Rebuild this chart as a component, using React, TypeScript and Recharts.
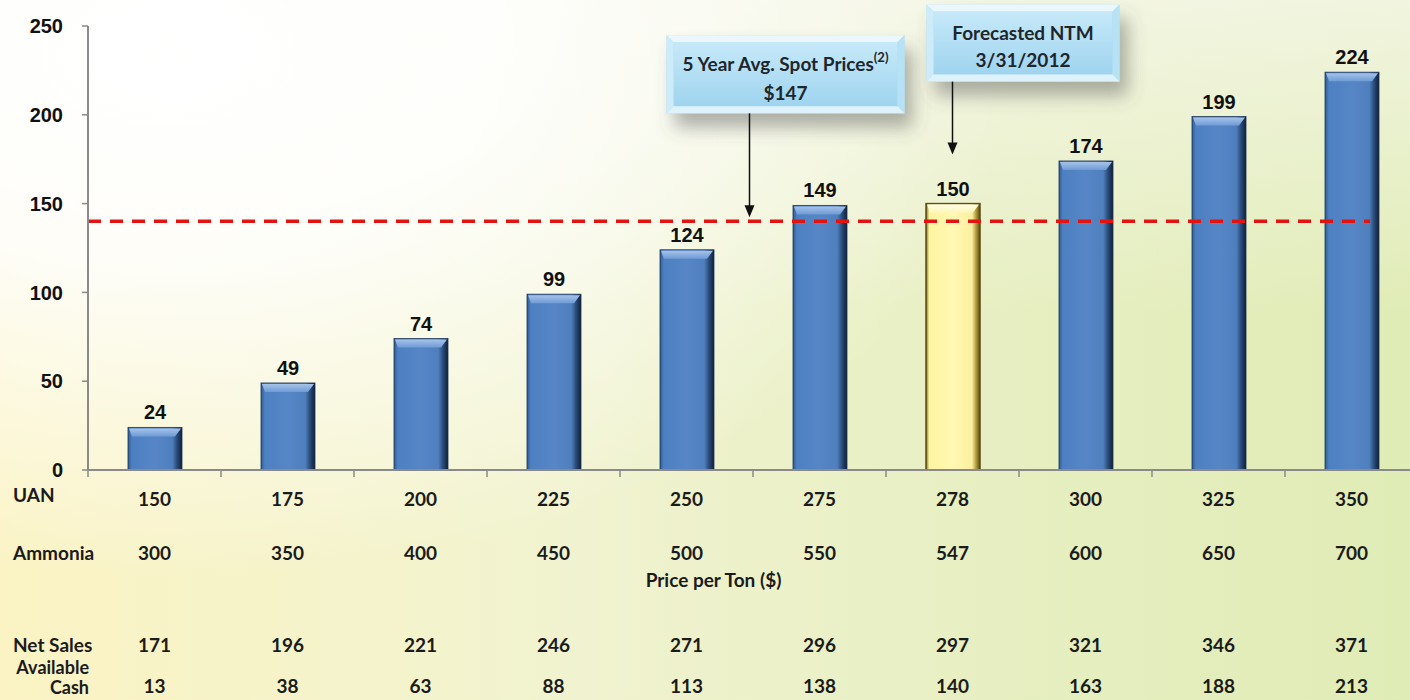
import { BarChart, Bar, XAxis, YAxis, LabelList, ReferenceLine, ReferenceDot } from 'recharts';

// price grid ($/ton) and resulting cash flow per scenario
const uanPrices = ['150', '175', '200', '225', '250', '275', '278', '300', '325', '350'];
const ammoniaPrices = ['300', '350', '400', '450', '500', '550', '547', '600', '650', '700'];
const netSales = ['171', '196', '221', '246', '271', '296', '297', '321', '346', '371'];
const availableCash = ['13', '38', '63', '88', '113', '138', '140', '163', '188', '213'];
const cashFlow = [24, 49, 74, 99, 124, 149, 150, 174, 199, 224];
const yTicks = [0, 50, 100, 150, 200, 250];

const FORECAST_UAN = '278';
const AVG_SPOT_LEVEL = 140;
const AVG_SPOT_UAN = '275';

const data = uanPrices.map((uan, i) => ({
  uan,
  ammonia: ammoniaPrices[i],
  netSales: netSales[i],
  cash: availableCash[i],
  value: cashFlow[i],
}));

// bottom axes stack in id order, so ids are prefixed by row number
const UAN_AXIS = 'r1_uan';

const AXIS = '#8a8a8a';
const ROW_TEXT = { fontFamily: 'Lato, sans-serif', fontSize: 19, fontWeight: 700, fill: '#1b1b1b' };
const NUM_TEXT = { fontFamily: '"Liberation Sans", Arial, sans-serif', fontSize: 20, fontWeight: 700, fill: '#111' };

// one row of the price table, laid out by its own x axis
function RowTick(props: any) {
  const { x, y, payload, index, width, visibleTicksCount, label, boundary, lift, caption } = props;
  const half = payload?.offset ?? width / visibleTicksCount / 2;
  const left = x - half;
  return (
    <g>
      {boundary && (
        <line x1={left} x2={left} y1={y - lift} y2={y - lift + 7} stroke={AXIS} strokeWidth={1.5} />
      )}
      <text x={x} y={y} dy="0.71em" textAnchor="middle" style={ROW_TEXT}>
        {payload.value}
      </text>
      {index === 0 && label && label.length === 1 && (
        <text x={left - 75} y={y + (boundary ? -4 : 0)} dy="0.71em" textAnchor="start" style={ROW_TEXT}>
          {label[0]}
        </text>
      )}
      {index === 0 && label && label.length === 2 && (
        <g>
          <text x={left + 1} y={y - 19} dy="0.71em" textAnchor="end" style={{ ...ROW_TEXT, fontSize: 18 }}>
            {label[0]}
          </text>
          <text x={left + 1} y={y + 1} dy="0.71em" textAnchor="end" style={{ ...ROW_TEXT, fontSize: 18 }}>
            {label[1]}
          </text>
        </g>
      )}
      {caption && index === 4 && (
        <text x={x + 27} y={y + 27} dy="0.71em" textAnchor="middle" style={ROW_TEXT}>
          Price per Ton ($)
        </text>
      )}
    </g>
  );
}

function BevelBar(props: any) {
  const { x, y, width: w, height: h } = props;
  if (!h || h <= 0) return null;
  const forecast = (props.payload?.uan ?? props.uan) === FORECAST_UAN;
  const id = forecast ? 'gold' : 'blue';
  const b = Math.min(9, h / 2);
  return (
    <g>
      <rect
        x={x}
        y={y}
        width={w}
        height={h}
        fill={`url(#${id}Body)`}
        stroke={forecast ? '#5b4c12' : '#1d3557'}
        strokeWidth={forecast ? 1.5 : 0.8}
      />
      <polygon
        points={`${x + 1},${y + 1} ${x + w - 1},${y + 1} ${x + w - 7},${y + b} ${x + 4},${y + b}`}
        fill={`url(#${id}Top)`}
      />
    </g>
  );
}

// bevelled call-out box with an arrow down to the point it describes
function Callout(props: any) {
  const { cx, cy, arrowDx, tipGap, stem, boxDx, boxW, boxH, children } = props;
  if (cx == null || cy == null) return null;
  const ax = cx + arrowDx;
  const tip = cy - tipGap;
  const bottom = tip - stem;
  const bx = ax + boxDx;
  const by = bottom - boxH;
  const b = 7;
  return (
    <g>
      <rect x={bx} y={by} width={boxW} height={boxH} fill="#a9d9f1" filter="url(#calloutShadow)" />
      <rect x={bx + b} y={by + b} width={boxW - 2 * b} height={boxH - 2 * b} fill="url(#calloutFace)" />
      <polygon points={`${bx},${by} ${bx + boxW},${by} ${bx + boxW - b},${by + b} ${bx + b},${by + b}`} fill="#eaf8fe" />
      <polygon points={`${bx},${by} ${bx + b},${by + b} ${bx + b},${by + boxH - b} ${bx},${by + boxH}`} fill="#cdebf9" />
      <polygon
        points={`${bx + boxW},${by} ${bx + boxW},${by + boxH} ${bx + boxW - b},${by + boxH - b} ${bx + boxW - b},${by + b}`}
        fill="#b7e1f5"
      />
      <polygon
        points={`${bx},${by + boxH} ${bx + b},${by + boxH - b} ${bx + boxW - b},${by + boxH - b} ${bx + boxW},${by + boxH}`}
        fill="#ddf2fb"
      />
      <g transform={`translate(${bx + boxW / 2}, ${by})`}>{children}</g>
      <line x1={ax} x2={ax} y1={bottom} y2={tip - 10} stroke="#111" strokeWidth={1.5} />
      <polygon points={`${ax - 5},${tip - 12} ${ax + 5},${tip - 12} ${ax},${tip}`} fill="#111" />
    </g>
  );
}

const CALLOUT_TEXT = { fontFamily: 'Lato, sans-serif', fontSize: 19, fontWeight: 700, fill: '#1e262b' };

export default function App() {
  return (
    <div
      style={{
        position: 'absolute',
        left: 0,
        top: 0,
        width: 1410,
        height: 700,
        overflow: 'hidden',
        background:
          'radial-gradient(ellipse 60% 75% at 12% 8%, #ffffff 0%, rgba(255,255,255,0.85) 40%, rgba(255,255,255,0) 100%),' +
          'linear-gradient(to bottom, rgba(248,248,240,0.7) 0%, rgba(248,248,240,0) 45%),' +
          'linear-gradient(to right, #fbf3c4 0%, #f1f3d0 40%, #e7efc2 70%, #e0ecb6 100%)',
      }}
    >
      <BarChart
        width={1430}
        height={700}
        data={data}
        margin={{ top: 26, right: 12, left: 0, bottom: 0 }}
        barSize={54}
      >
        <defs>
          <linearGradient id="blueBody" x1="0" y1="0" x2="1" y2="0">
            <stop offset="0" stopColor="#2f5a91" />
            <stop offset="0.07" stopColor="#4d80c2" />
            <stop offset="0.5" stopColor="#5686c6" />
            <stop offset="0.82" stopColor="#4f7fbd" />
            <stop offset="0.9" stopColor="#2c4f80" />
            <stop offset="1" stopColor="#0f1f36" />
          </linearGradient>
          <linearGradient id="blueTop" x1="0" y1="0" x2="0" y2="1">
            <stop offset="0" stopColor="#a6c3ea" />
            <stop offset="1" stopColor="#6f9bd5" />
          </linearGradient>
          <linearGradient id="goldBody" x1="0" y1="0" x2="1" y2="0">
            <stop offset="0" stopColor="#7d6d22" />
            <stop offset="0.06" stopColor="#fff4a0" />
            <stop offset="0.5" stopColor="#fff8b4" />
            <stop offset="0.85" stopColor="#fbf0a0" />
            <stop offset="0.92" stopColor="#b9a345" />
            <stop offset="1" stopColor="#5a4a10" />
          </linearGradient>
          <linearGradient id="goldTop" x1="0" y1="0" x2="0" y2="1">
            <stop offset="0" stopColor="#fffde8" />
            <stop offset="1" stopColor="#fff6b8" />
          </linearGradient>
          <linearGradient id="calloutFace" x1="0" y1="0" x2="0" y2="1">
            <stop offset="0" stopColor="#c6e9f9" />
            <stop offset="1" stopColor="#9fd4ef" />
          </linearGradient>
          <filter id="calloutShadow" x="-30%" y="-30%" width="160%" height="190%">
            <feDropShadow dx="8" dy="14" stdDeviation="9" floodColor="#555" floodOpacity="0.45" />
          </filter>
        </defs>

        <YAxis
          width={88}
          domain={[0, 250]}
          ticks={yTicks}
          interval={0}
          tickSize={6}
          tickMargin={19}
          axisLine={{ stroke: AXIS, strokeWidth: 2 }}
          tickLine={{ stroke: AXIS, strokeWidth: 1.5 }}
          tick={NUM_TEXT}
        />
        <XAxis
          xAxisId={UAN_AXIS}
          dataKey="uan"
          height={50}
          interval={0}
          tickSize={0}
          tickMargin={23}
          axisLine={{ stroke: AXIS, strokeWidth: 2 }}
          tickLine={false}
          tick={<RowTick label={['UAN']} boundary lift={23} />}
        />
        <XAxis
          xAxisId="r2_ammonia"
          dataKey="ammonia"
          height={70}
          interval={0}
          tickSize={0}
          tickMargin={27}
          axisLine={false}
          tickLine={false}
          tick={<RowTick label={['Ammonia']} caption />}
        />
        <XAxis
          xAxisId="r3_netSales"
          dataKey="netSales"
          height={70}
          interval={0}
          tickSize={0}
          tickMargin={49}
          axisLine={false}
          tickLine={false}
          tick={<RowTick label={['Net Sales']} />}
        />
        <XAxis
          xAxisId="r4_cash"
          dataKey="cash"
          height={40}
          interval={0}
          tickSize={0}
          tickMargin={20}
          axisLine={false}
          tickLine={false}
          tick={<RowTick label={['Available', 'Cash']} />}
        />

        <Bar xAxisId={UAN_AXIS} dataKey="value" shape={<BevelBar />} isAnimationActive={false}>
          <LabelList dataKey="value" position="top" offset={8} style={NUM_TEXT} />
        </Bar>

        <ReferenceLine
          xAxisId={UAN_AXIS}
          y={AVG_SPOT_LEVEL}
          shape={(p: any) => (
            <line
              x1={p.x1}
              y1={p.y1}
              x2={p.x2 - 48}
              y2={p.y2}
              stroke="#e3140f"
              strokeWidth={3.5}
              strokeDasharray="13 9"
            />
          )}
        />

        <ReferenceDot
          xAxisId={UAN_AXIS}
          x={AVG_SPOT_UAN}
          y={AVG_SPOT_LEVEL}
          shape={(p: any) => (
            <Callout cx={p.cx} cy={p.cy} arrowDx={-70} tipGap={4} stem={104} boxDx={-83} boxW={238} boxH={78}>
              <text x={0} y={28} textAnchor="middle" dominantBaseline="central" style={CALLOUT_TEXT}>
                5 Year Avg. Spot Prices
                <tspan fontSize={13} dy={-6}>
                  (2)
                </tspan>
              </text>
              <text x={0} y={57} textAnchor="middle" dominantBaseline="central" style={CALLOUT_TEXT}>
                $147
              </text>
            </Callout>
          )}
        />
        <ReferenceDot
          xAxisId={UAN_AXIS}
          x={FORECAST_UAN}
          y={cashFlow[uanPrices.indexOf(FORECAST_UAN)]}
          shape={(p: any) => (
            <Callout cx={p.cx} cy={p.cy} arrowDx={0} tipGap={49} stem={73} boxDx={-26} boxW={193} boxH={77}>
              <text x={0} y={28} textAnchor="middle" dominantBaseline="central" style={CALLOUT_TEXT}>
                Forecasted NTM
              </text>
              <text x={0} y={55} textAnchor="middle" dominantBaseline="central" style={CALLOUT_TEXT}>
                3/31/2012
              </text>
            </Callout>
          )}
        />
      </BarChart>
    </div>
  );
}
